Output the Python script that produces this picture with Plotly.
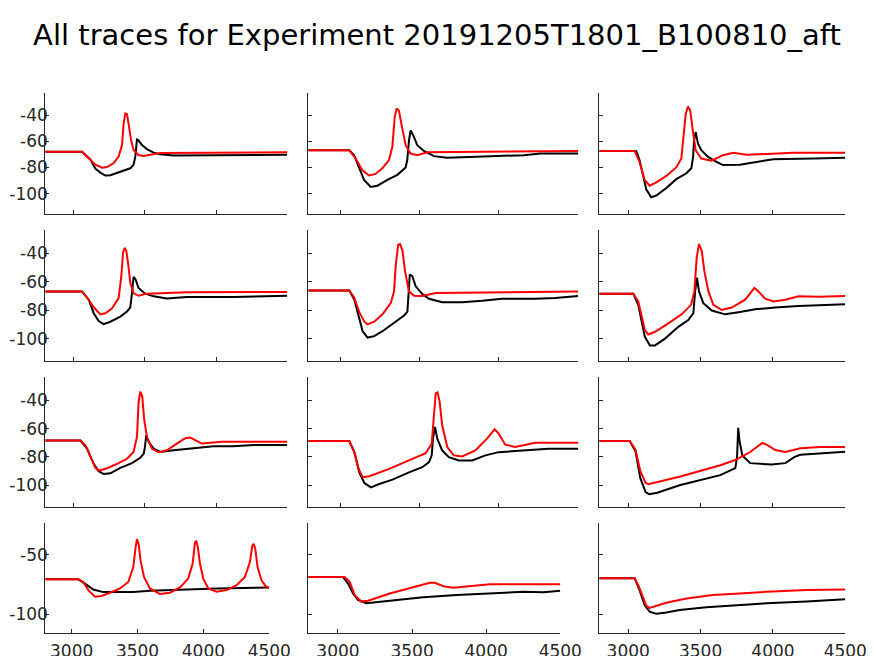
import plotly.graph_objects as go

PAGE_W, PAGE_H = 874, 656
BODY = 8  # default page margin around the figure
W, H = PAGE_W - BODY, PAGE_H - BODY

# ---------------- data (time in ms, voltage in mV) ----------------
# Row 1
t11_exp = [2800, 3058, 3117, 3152, 3187, 3222, 3257, 3327, 3397, 3420, 3432, 3444, 3455, 3479, 3514, 3561, 3607, 3701, 4000, 4500]
v11_exp = [-68, -68, -74, -81, -84, -86.2, -86, -83.5, -80.7, -78, -72, -58.7, -59.3, -63, -66, -68.7, -70, -71, -70.7, -70.3]
t11_sim = [2800, 3058, 3105, 3152, 3199, 3234, 3280, 3315, 3339, 3350, 3362, 3374, 3385, 3402, 3420, 3455, 3490, 3561, 3607, 4500]
v11_sim = [-68, -68, -73, -78, -80.2, -79.7, -76.7, -71.7, -63, -46.7, -38.7, -39.3, -46.7, -59, -66.7, -70.5, -71.2, -69.7, -69, -68.5]

t12_exp = [2800, 3057, 3088, 3119, 3151, 3193, 3235, 3298, 3361, 3413, 3423, 3434, 3444, 3461, 3486, 3528, 3591, 3675, 3800, 3947, 4157, 4262, 4500]
v12_exp = [-66.9, -66.9, -70.6, -79.4, -89.5, -95, -94, -89.5, -85.7, -80, -74.4, -59.4, -51.8, -55.6, -63, -67.4, -71.4, -72.7, -72, -71.4, -70.7, -69.4, -69.4]
t12_sim = [2800, 3057, 3098, 3140, 3182, 3224, 3266, 3308, 3329, 3344, 3356, 3371, 3386, 3413, 3444, 3486, 3549, 4031, 4500]
v12_sim = [-66.9, -66.9, -73.2, -82, -86.2, -85, -80.7, -74.4, -64.4, -41.8, -35, -36.8, -46.8, -63, -69.4, -70.7, -68.4, -68.1, -67.4]

t13_exp = [2800, 3055, 3078, 3102, 3125, 3159, 3194, 3263, 3332, 3402, 3436, 3448, 3455, 3466, 3482, 3505, 3552, 3609, 3655, 3771, 3886, 4002, 4279, 4500]
v13_exp = [-67.4, -67.4, -74.4, -87, -97, -102.8, -101.5, -95.8, -89, -84.5, -80.7, -72, -59.4, -53, -61.9, -66.9, -72, -75.7, -78.2, -78, -75.7, -73.7, -73.2, -72.7]
t13_sim = [2800, 3044, 3078, 3113, 3148, 3194, 3263, 3332, 3367, 3383, 3397, 3413, 3429, 3443, 3466, 3505, 3575, 3655, 3725, 3817, 3955, 4140, 4500]
v13_sim = [-67.4, -67.4, -75.7, -89.5, -94, -91.5, -86.5, -80, -73.2, -56.8, -39.2, -33.5, -36.7, -49.3, -66.9, -73.2, -74.9, -70.7, -68.9, -70.4, -69.9, -68.9, -68.9]

# Row 2
t21_exp = [2800, 3058, 3105, 3140, 3175, 3210, 3257, 3327, 3374, 3397, 3409, 3420, 3434, 3455, 3502, 3561, 3654, 3794, 4121, 4500]
v21_exp = [-66.7, -66.7, -72.6, -82.1, -87.6, -89.8, -88.1, -84.5, -81, -77.9, -67.9, -56.4, -58.3, -64.3, -68.3, -70.2, -71.7, -70.7, -70.7, -69.8]
t21_sim = [2800, 3058, 3105, 3140, 3187, 3222, 3269, 3315, 3334, 3346, 3358, 3369, 3381, 3397, 3420, 3455, 3514, 3794, 4500]
v21_sim = [-66.7, -66.7, -72.6, -77.9, -82.9, -82.1, -78.6, -71.4, -56, -39.3, -36, -38.1, -46.4, -60.7, -67.9, -69.8, -68.3, -67.4, -67.1]

t22_exp = [2800, 3058, 3090, 3121, 3142, 3173, 3215, 3267, 3351, 3403, 3424, 3430, 3439, 3455, 3476, 3518, 3560, 3643, 3769, 3894, 4019, 4228, 4354, 4500]
v22_exp = [-66, -66, -72.6, -85.7, -94.8, -99.3, -98.3, -94.8, -88.1, -83.8, -81, -66.7, -54.8, -56, -63.1, -68.6, -71.9, -74.3, -74.3, -73.3, -71.9, -71.9, -71.4, -70]
t22_sim = [2800, 3058, 3090, 3121, 3153, 3173, 3215, 3267, 3319, 3340, 3351, 3366, 3378, 3393, 3409, 3434, 3466, 3518, 3602, 3894, 4500]
v22_sim = [-66, -66, -71.4, -81.4, -88.1, -90, -88.1, -82.9, -75, -66.7, -47.6, -33.8, -33.3, -38.1, -52.4, -66.7, -69.8, -70, -67.9, -67.4, -66.7]

t23_exp = [2800, 3035, 3069, 3092, 3115, 3150, 3185, 3254, 3346, 3415, 3450, 3462, 3475, 3489, 3519, 3577, 3669, 3762, 3877, 4015, 4177, 4500]
v23_exp = [-68.3, -68.3, -76.2, -88.1, -98.8, -104.8, -104.8, -100, -91.7, -86.9, -82.1, -66.7, -57.1, -66.7, -75, -80.2, -82.9, -81.4, -79.3, -78.1, -77.1, -75.7]
t23_sim = [2800, 3035, 3069, 3097, 3115, 3138, 3185, 3277, 3369, 3434, 3457, 3473, 3489, 3508, 3526, 3554, 3588, 3646, 3715, 3808, 3872, 3900, 3946, 4004, 4085, 4177, 4315, 4500]
v23_sim = [-68.3, -68.3, -73.8, -85.7, -94, -97.1, -95.2, -89.3, -82.9, -76.2, -66.7, -42.9, -33.3, -38.1, -52.4, -66.7, -76.2, -79.8, -78.1, -72.6, -64.3, -66.7, -71.9, -73.8, -72.6, -70.2, -70.5, -70]

# Row 3
t31_exp = [2800, 3047, 3093, 3140, 3175, 3210, 3257, 3327, 3409, 3467, 3491, 3500, 3509, 3526, 3561, 3607, 3701, 3794, 3981, 4121, 4262, 4500]
v31_exp = [-68.5, -68.5, -74.2, -85, -90.2, -92.2, -91.7, -87.8, -84.5, -80.7, -77.8, -73, -64.6, -69.4, -74.2, -76.6, -75.4, -74.4, -72.5, -72.5, -71.6, -71.6]
t31_sim = [2800, 3047, 3082, 3117, 3152, 3175, 3234, 3304, 3374, 3420, 3444, 3455, 3467, 3481, 3495, 3514, 3549, 3596, 3654, 3724, 3783, 3818, 3853, 3899, 3981, 4040, 4500]
v31_sim = [-68.5, -68.5, -71.8, -80.2, -87.8, -89.8, -88.1, -85, -81.4, -76.6, -65.8, -41.9, -33.8, -37.1, -53.9, -65.8, -74.2, -76.8, -75.4, -70.6, -66.8, -66.3, -68.2, -70.6, -69.9, -69.4, -69.4]

t32_exp = [2800, 3058, 3090, 3121, 3153, 3194, 3247, 3330, 3434, 3518, 3560, 3577, 3585, 3598, 3612, 3643, 3685, 3748, 3832, 3915, 3999, 4145, 4312, 4500]
v32_exp = [-68.8, -68.8, -76.7, -91, -98.6, -101.7, -99.3, -96.2, -91, -87.4, -83.8, -79, -67.1, -58.8, -67.1, -75.5, -80.2, -82.6, -82.6, -79, -76.7, -75.7, -74.3, -74.3]
t32_sim = [2800, 3058, 3090, 3117, 3142, 3184, 3309, 3434, 3539, 3577, 3589, 3602, 3614, 3627, 3643, 3675, 3716, 3769, 3852, 3925, 3973, 3999, 4040, 4103, 4228, 4500]
v32_sim = [-68.8, -68.8, -76.7, -88.6, -94.5, -93.8, -88.6, -82.6, -77.4, -70.7, -55.2, -35, -34.3, -41, -57.6, -73.1, -79, -79.8, -75.5, -67.1, -60.5, -63.6, -71.4, -73.1, -70, -70]

t33_exp = [2800, 3010, 3050, 3083, 3120, 3145, 3200, 3360, 3636, 3740, 3752, 3760, 3768, 3788, 3843, 3990, 4085, 4150, 4189, 4327, 4500]
v33_exp = [-68.8, -68.8, -76, -95, -105, -106.6, -105.5, -100, -93, -88, -80, -59.5, -68, -79, -84.5, -85.5, -84.5, -80, -78.5, -77.5, -76.5]
t33_sim = [2800, 3010, 3050, 3083, 3120, 3139, 3360, 3636, 3740, 3843, 3926, 3960, 4016, 4085, 4189, 4327, 4500]
v33_sim = [-68.8, -68.8, -75, -90, -98.5, -99.5, -94, -86, -82.3, -76.6, -70.2, -71.5, -75.2, -76.6, -74, -73, -73]

# Row 4
t41_exp = [2800, 3051, 3101, 3164, 3240, 3341, 3468, 3594, 3721, 3873, 4100, 4500]
v41_exp = [-70.6, -70.6, -74.2, -79.2, -81.4, -81.4, -81.4, -80.3, -79.7, -79.2, -78.3, -77.5]
t41_sim = [2800, 3051, 3089, 3126, 3177, 3228, 3291, 3367, 3430, 3468, 3485, 3496, 3508, 3523, 3549, 3594, 3670, 3746, 3822, 3885, 3918, 3936, 3946, 3958, 3974, 3999, 4037, 4100, 4176, 4252, 4315, 4353, 4371, 4381, 4393, 4411, 4441, 4472, 4500]
v41_sim = [-70.6, -70.6, -72.8, -79.7, -85.3, -84.7, -81.9, -78.3, -72.8, -60.3, -43.6, -36.7, -40.8, -54.7, -68.6, -78.3, -83, -81.9, -77.5, -70, -57.5, -39.4, -38.6, -43.6, -57.5, -70, -78.3, -81.1, -79.7, -75.6, -68.6, -56.1, -42.2, -40.8, -44.5, -60.3, -71.4, -76.4, -78]

t42_exp = [2800, 3034, 3068, 3102, 3135, 3192, 3350, 3575, 3801, 4026, 4252, 4387, 4500]
v42_exp = [-68.6, -68.6, -74.2, -82.5, -88, -90.8, -88.6, -85.8, -83.9, -82.5, -81.1, -81.5, -80.3]
t42_sim = [2800, 3045, 3079, 3113, 3158, 3203, 3350, 3508, 3620, 3654, 3711, 3778, 3891, 4026, 4500]
v42_sim = [-68.6, -68.6, -72.8, -83.9, -89.4, -88.6, -82.5, -77.5, -73.6, -73.6, -76.4, -77.8, -76.4, -74.7, -74.7]

t43_exp = [2800, 3044, 3078, 3113, 3148, 3194, 3263, 3355, 3540, 3725, 3955, 4232, 4500]
v43_exp = [-69.7, -69.7, -79.7, -92.2, -97.8, -99.7, -98.6, -96.4, -94.2, -92.5, -90.8, -89.2, -87.5]
t43_sim = [2800, 3044, 3074, 3102, 3125, 3148, 3263, 3402, 3586, 3771, 3955, 4232, 4500]
v43_sim = [-69.7, -69.7, -76.9, -86.7, -93, -94.7, -90.3, -86.7, -83.9, -82.5, -81.1, -79.7, -79.2]

panels = [
    [(t11_exp, v11_exp, t11_sim, v11_sim), (t12_exp, v12_exp, t12_sim, v12_sim), (t13_exp, v13_exp, t13_sim, v13_sim)],
    [(t21_exp, v21_exp, t21_sim, v21_sim), (t22_exp, v22_exp, t22_sim, v22_sim), (t23_exp, v23_exp, t23_sim, v23_sim)],
    [(t31_exp, v31_exp, t31_sim, v31_sim), (t32_exp, v32_exp, t32_sim, v32_sim), (t33_exp, v33_exp, t33_sim, v33_sim)],
    [(t41_exp, v41_exp, t41_sim, v41_sim), (t42_exp, v42_exp, t42_sim, v42_sim), (t43_exp, v43_exp, t43_sim, v43_sim)],
]

x_ticks = [3000, 3500, 4000, 4500]
x_tick_labels = ['3000', '3500', '4000', '4500']
y_ticks_tall = [-100, -80, -60, -40]
y_tick_labels_tall = ['-100', '-80', '-60', '-40']
y_ticks_short = [-100, -50]
y_tick_labels_short = ['-100', '-50']
x_range = [2800, 4500]
y_range = [-115.6, -23.4]

title_text = "All traces for Experiment 20191205T1801_B100810_aft"

# ---------------- layout geometry (page pixels) ----------------
col_px = [(45.3, 287.3), (308.3, 578.3), (599.3, 845.3)]
col_px_bottom = [(45.3, 269.3), (308.3, 560.3), (599.3, 845.3)]
row_px = [(93.3, 214), (230, 360.7), (377, 507), (523.3, 632.7)]


def fx(px):
    return (px - BODY) / W


def fy(py):
    return 1 - (py - BODY) / H


AX = '#262626'
FONT = 'DejaVu Sans'

fig = go.Figure()
layout = {}
for r in range(4):
    for c in range(3):
        k = r * 3 + c + 1
        sfx = '' if k == 1 else str(k)
        te, ve, ts, vs = panels[r][c]
        fig.add_trace(go.Scatter(x=te, y=ve, mode='lines', line=dict(color='#000000', width=2),
                                 xaxis='x' + sfx, yaxis='y' + sfx, showlegend=False, hoverinfo='skip'))
        fig.add_trace(go.Scatter(x=ts, y=vs, mode='lines', line=dict(color='#ff0000', width=2),
                                 xaxis='x' + sfx, yaxis='y' + sfx, showlegend=False, hoverinfo='skip'))
        xl, xr = (col_px_bottom if r == 3 else col_px)[c]
        yt, yb = row_px[r]
        layout['xaxis' + sfx] = dict(
            domain=[fx(xl), fx(xr)], range=x_range, anchor='y' + sfx, automargin=False,
            tickmode='array', tickvals=x_ticks, ticktext=x_tick_labels, showticklabels=(r == 3),
            ticks='inside', ticklen=4, tickcolor=AX, tickwidth=1, ticklabelstandoff=3,
            showline=True, linecolor=AX, linewidth=1, showgrid=False, zeroline=False,
            tickfont=dict(family=FONT, size=17, color=AX),
        )
        layout['yaxis' + sfx] = dict(
            domain=[fy(yb), fy(yt)], range=y_range, anchor='x' + sfx, automargin=False,
            tickmode='array',
            tickvals=(y_ticks_short if r == 3 else y_ticks_tall),
            ticktext=(y_tick_labels_short if r == 3 else y_tick_labels_tall),
            showticklabels=(c == 0),
            ticks='inside', ticklen=4, tickcolor=AX, tickwidth=1, ticklabelstandoff=-7,
            showline=True, linecolor=AX, linewidth=1, showgrid=False, zeroline=False,
            tickfont=dict(family=FONT, size=17, color=AX),
        )

fig.update_layout(
    width=W, height=H, autosize=False,
    margin=dict(l=0, r=0, t=0, b=0, autoexpand=False),
    paper_bgcolor='white', plot_bgcolor='white',
    title=dict(text=title_text, x=fx(437), xanchor='center', y=fy(35), yanchor='middle',
               font=dict(family=FONT, size=29, color='#000000'), automargin=False),
    **layout,
)

fig.write_html("out.html")
